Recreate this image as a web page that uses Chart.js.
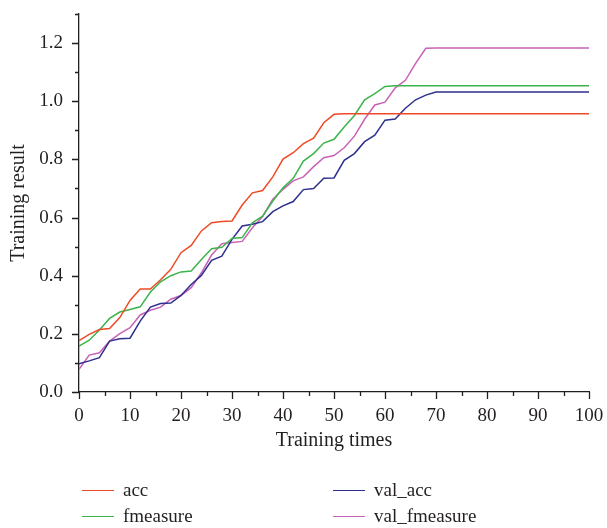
<!DOCTYPE html>
<html>
<head>
<meta charset="utf-8">
<script src="https://cdn.jsdelivr.net/npm/chart.js@4.4.0/dist/chart.umd.min.js"></script>
<style>
  html, body { margin: 0; padding: 0; background: #ffffff; }
  #wrap { position: relative; width: 607px; height: 528px; }
  #c { position: absolute; left: 0; top: 0; }
  .leg { position: absolute; font-family: "Liberation Serif", serif; font-size: 19px; color: #231f20; line-height: 22px; white-space: nowrap; }
  .leg .sw { position: absolute; width: 32px; height: 0; border-top: 1.5px solid; top: 11px; left: 0; }
  .leg .tx { position: absolute; left: 41px; top: 0; }
</style>
</head>
<body>
<div id="wrap">
  <canvas id="c" width="607" height="528"></canvas>
</div>
<script>
const xValues = [0,2,4,6,8,10,12,14,16,18,20,22,24,26,28,30,32,34,36,38,40,42,44,46,48,50,52,54,56,58,60,62,64,66,68,70,72,74,76,78,80,82,84,86,88,90,92,94,96,98,100];

const acc = [0.177,0.198,0.215,0.218,0.256,0.315,0.354,0.354,0.386,0.422,0.479,0.504,0.554,0.582,0.586,0.588,0.643,0.685,0.693,0.740,0.801,0.823,0.854,0.873,0.926,0.955,
  0.957,0.957,0.957,0.957,0.957,0.957,0.957,0.957,0.957,0.957,0.957,0.957,0.957,0.957,0.957,0.957,0.957,0.957,0.957,0.957,0.957,0.957,0.957,0.957,0.957];

const fmeasure = [0.158,0.178,0.213,0.253,0.275,0.284,0.293,0.344,0.379,0.400,0.413,0.416,0.456,0.493,0.498,0.528,0.531,0.582,0.605,0.657,0.702,0.735,0.794,0.820,0.856,0.869,0.911,0.951,1.005,1.026,1.051,
  1.053,1.053,1.053,1.053,1.053,1.053,1.053,1.053,1.053,1.053,1.053,1.053,1.053,1.053,1.053,1.053,1.053,1.053,1.053,1.053];

const valAcc = [0.097,0.107,0.118,0.175,0.183,0.185,0.244,0.292,0.304,0.306,0.332,0.370,0.401,0.453,0.467,0.525,0.571,0.577,0.586,0.620,0.640,0.655,0.696,0.700,0.735,0.736,0.797,0.820,0.861,0.883,0.935,0.939,0.976,1.005,1.021,1.032,
  1.032,1.032,1.032,1.032,1.032,1.032,1.032,1.032,1.032,1.032,1.032,1.032,1.032,1.032,1.032];

const valFmeasure = [0.078,0.127,0.135,0.175,0.201,0.221,0.265,0.281,0.292,0.319,0.332,0.359,0.410,0.471,0.510,0.514,0.518,0.565,0.603,0.663,0.697,0.726,0.740,0.775,0.806,0.813,0.840,0.880,0.938,0.987,0.997,1.046,1.072,1.130,1.182,
  1.183,1.183,1.183,1.183,1.183,1.183,1.183,1.183,1.183,1.183,1.183,1.183,1.183,1.183,1.183,1.183];

const seriesNames = ["acc", "fmeasure", "val_acc", "val_fmeasure"];
const xTickLabels = ["0","10","20","30","40","50","60","70","80","90","100"];
const yTickLabels = ["0.0","0.2","0.4","0.6","0.8","1.0","1.2"];

const colors = ["#ef4a26", "#3cb44b", "#2e2f8e", "#c862b6"];
const allSeries = [acc, fmeasure, valAcc, valFmeasure];
const INK = "#231f20";
const FONT = "'Liberation Serif', 'Times New Roman', serif";

function toPoints(vals) { return xValues.map((x, i) => ({x: x, y: vals[i]})); }

const datasets = allSeries.map((vals, i) => ({
  label: seriesNames[i],
  data: toPoints(vals),
  borderColor: colors[i],
  backgroundColor: colors[i],
  borderWidth: 1.5,
  pointRadius: 0,
  tension: 0,
  fill: false
}));

function isXMajor(v) { return xTickLabels.indexOf(String(Math.round(v))) >= 0; }
function isYMajor(v) { return yTickLabels.indexOf(v.toFixed(1)) >= 0; }

const tickPlugin = {
  id: 'customTicks',
  afterDraw(chart) {
    const ctx = chart.ctx;
    const xs = chart.scales.x, ys = chart.scales.y;
    const area = chart.chartArea;
    ctx.save();
    ctx.strokeStyle = INK;
    ctx.lineWidth = 1.3;
    ctx.beginPath();
    xs.ticks.forEach(t => {
      const px = Math.round(xs.getPixelForValue(t.value)) + 0.5;
      const len = isXMajor(t.value) ? 7 : 4;
      ctx.moveTo(px, area.bottom);
      ctx.lineTo(px, area.bottom + len);
    });
    ys.ticks.forEach(t => {
      const py = Math.round(ys.getPixelForValue(t.value)) + 0.5;
      const len = isYMajor(t.value) ? 7 : 4;
      ctx.moveTo(area.left, py);
      ctx.lineTo(area.left - len, py);
    });
    ctx.stroke();
    ctx.restore();
  }
};

new Chart(document.getElementById('c'), {
  type: 'line',
  data: { datasets: datasets },
  plugins: [tickPlugin],
  options: {
    responsive: false,
    animation: false,
    layout: { padding: { left: 0, top: 14, right: 18, bottom: 70 } },
    plugins: { legend: { display: false }, tooltip: { enabled: false } },
    scales: {
      x: {
        type: 'linear',
        min: 0, max: 100,
        afterFit: (s) => { s.height = 66; s.paddingLeft = 0; s.paddingRight = 0; },
        ticks: {
          stepSize: 5,
          autoSkip: false,
          maxRotation: 0,
          padding: 13,
          color: INK,
          font: { family: FONT, size: 19 },
          callback: (v) => isXMajor(v) ? String(Math.round(v)) : ''
        },
        grid: { drawOnChartArea: false, drawTicks: false },
        border: { display: true, color: INK, width: 1.3 },
        title: { display: true, text: 'Training times', color: INK, font: { family: FONT, size: 20 }, padding: { top: 0, bottom: 5 } }
      },
      y: {
        type: 'linear',
        min: 0, max: 1.3,
        afterFit: (s) => { s.width = 79; s.paddingTop = 0; s.paddingBottom = 0; },
        ticks: {
          stepSize: 0.1,
          autoSkip: false,
          padding: 16,
          color: INK,
          font: { family: FONT, size: 19 },
          callback: (v) => isYMajor(v) ? v.toFixed(1) : ''
        },
        grid: { drawOnChartArea: false, drawTicks: false },
        border: { display: true, color: INK, width: 1.3 },
        title: { display: true, text: 'Training result', color: INK, font: { family: FONT, size: 20 }, padding: { top: 7, bottom: 0 } }
      }
    }
  }
});

// HTML legend (2 columns: acc/fmeasure, val_acc/val_fmeasure)
const legPos = [[82, 479], [82, 505], [333, 479], [333, 505]];
const wrap = document.getElementById('wrap');
seriesNames.forEach((name, i) => {
  const d = document.createElement('div');
  d.className = 'leg';
  d.style.left = legPos[i][0] + 'px';
  d.style.top = legPos[i][1] + 'px';
  const sw = document.createElement('span');
  sw.className = 'sw';
  sw.style.borderTopColor = colors[i];
  const tx = document.createElement('span');
  tx.className = 'tx';
  tx.textContent = name;
  d.appendChild(sw); d.appendChild(tx);
  wrap.appendChild(d);
});
</script>
</body>
</html>
